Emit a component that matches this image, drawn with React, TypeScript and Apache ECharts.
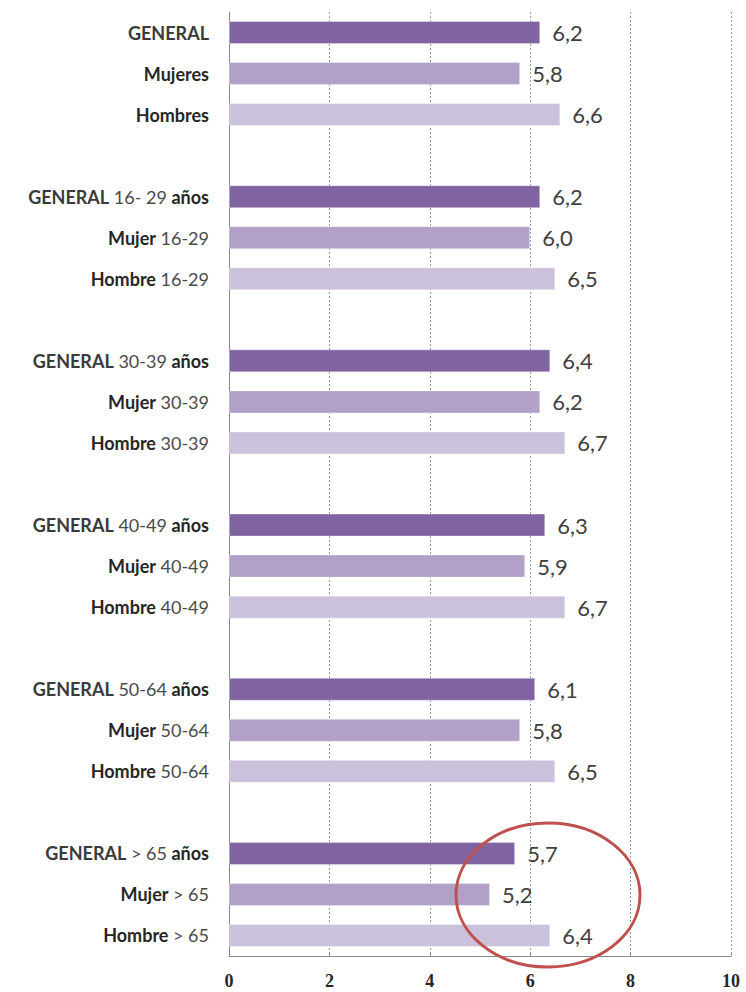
import React, { useEffect, useRef } from "react";
import * as echarts from "echarts";

const categories = [
  "GENERAL", "Mujeres", "Hombres", "",
  "GENERAL 16- 29 años", "Mujer 16-29", "Hombre 16-29", "",
  "GENERAL 30-39 años", "Mujer 30-39", "Hombre 30-39", "",
  "GENERAL 40-49 años", "Mujer 40-49", "Hombre 40-49", "",
  "GENERAL 50-64 años", "Mujer 50-64", "Hombre 50-64", "",
  "GENERAL > 65 años", "Mujer > 65", "Hombre > 65",
];
const values: (number | null)[] = [
  6.2, 5.8, 6.6, null,
  6.2, 6.0, 6.5, null,
  6.4, 6.2, 6.7, null,
  6.3, 5.9, 6.7, null,
  6.1, 5.8, 6.5, null,
  5.7, 5.2, 6.4,
];
const roles = [
  "general", "mujer", "hombre", "",
  "general", "mujer", "hombre", "",
  "general", "mujer", "hombre", "",
  "general", "mujer", "hombre", "",
  "general", "mujer", "hombre", "",
  "general", "mujer", "hombre",
];
const xTicks = [0, 2, 4, 6, 8, 10];

const roleColors: Record<string, string> = {
  general: "#8064A2",
  mujer: "#B1A0C7",
  hombre: "#CCC1DA",
};

function richLabel(text: string): string {
  if (!text) return "";
  return text
    .split(" ")
    .map((tok) => {
      const isWord = /^[A-Za-zñáéíóú]+$/.test(tok) && tok !== "GENERAL";
      const style = tok === "GENERAL" ? "g" : isWord ? "b" : "r";
      return `{${style}|${tok}}`;
    })
    .join("{r| }");
}

export default function App() {
  const ref = useRef<HTMLDivElement>(null);
  useEffect(() => {
    if (!ref.current) return;
    const chart = echarts.init(ref.current, null, { renderer: "svg" });
    chart.setOption({
      animation: false,
      grid: { left: 229, right: 15, top: 12, bottom: 36, containLabel: false },
      xAxis: {
        type: "value",
        min: xTicks[0],
        max: xTicks[xTicks.length - 1],
        interval: 2,
        axisLine: { show: true, lineStyle: { color: "#888888", width: 1 } },
        axisTick: { show: true, length: 4, inside: true, lineStyle: { color: "#888888" } },
        axisLabel: {
          margin: 16,
          color: "#262626",
          fontFamily: "Liberation Serif",
          fontWeight: "bold",
          fontSize: 18,
        },
        splitLine: { show: true, lineStyle: { color: "#9a9a9a", type: [2, 2], width: 1 } },
      },
      yAxis: {
        type: "category",
        inverse: true,
        data: categories,
        axisLine: { show: true, lineStyle: { color: "#888888", width: 1 } },
        axisTick: { show: false },
        axisLabel: {
          margin: 20,
          interval: 0,
          formatter: (v: string) => richLabel(v),
          rich: {
            b: { fontFamily: "Lato", fontWeight: "bold", fontSize: 18, color: "#262626" },
            r: { fontFamily: "Lato", fontWeight: "normal", fontSize: 18, color: "#4a4a4a" },
            g: { fontFamily: "Lato", fontWeight: "bold", fontSize: 18, color: "#3a3a3a" },
          },
        },
      },
      series: [
        {
          type: "bar",
          barWidth: 23,
          data: values.map((v, i) => ({
            value: v,
            itemStyle: {
              color: roleColors[roles[i]] || "#ffffff",
              borderColor: "rgba(255,255,255,0.35)",
              borderWidth: 1,
            },
          })),
          label: {
            show: true,
            position: "right",
            distance: 12,
            color: "#404040",
            fontFamily: "Lato",
            fontSize: 22,
            formatter: (p: any) =>
              p.value == null ? "" : Number(p.value).toFixed(1).replace(".", ","),
          },
        },
      ],
      graphic: [
        {
          type: "ellipse",
          shape: { cx: 548, cy: 895, rx: 92, ry: 72 },
          style: { fill: "none", stroke: "#C0504D", lineWidth: 3 },
          z: 100,
        },
      ],
    });
    return () => chart.dispose();
  }, []);
  return <div ref={ref} style={{ width: 746, height: 992, position: "absolute", left: 0, top: 0 }} />;
}
